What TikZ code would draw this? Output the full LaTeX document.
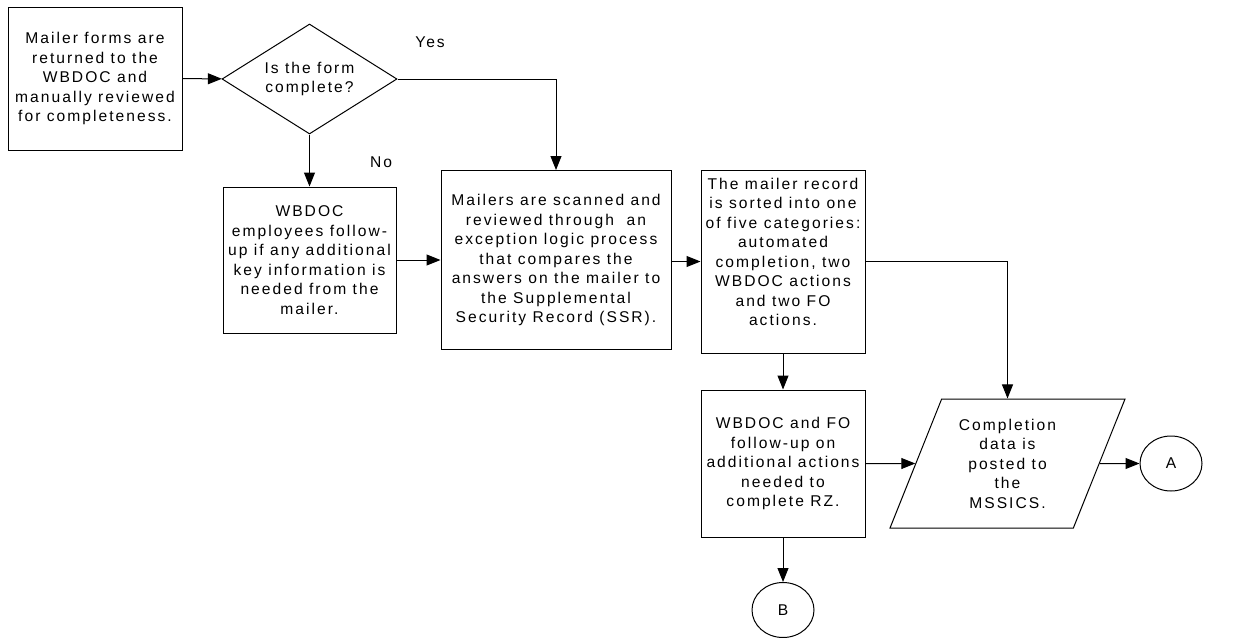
\documentclass[tikz,border=0pt]{standalone}
\usepackage{fontspec}
\setmainfont[LetterSpace=13]{Liberation Sans}
\usepackage{tikz}
\usetikzlibrary{positioning,shapes.geometric,arrows.meta}
\tikzset{
	flowbox/.style={draw, line width=1pt, inner sep=0pt, align=center, font=\fontsize{15.6}{19.5}\selectfont},
	decision/.style={flowbox, diamond, aspect=1.6},
	posting/.style={flowbox, trapezium, trapezium left angle=60, trapezium right angle=120, trapezium stretches body},
	offpage/.style={flowbox, ellipse},
	flowarrow/.style={line width=1pt, -{Triangle[length=14pt,width=11pt]}},
	answer/.style={font=\fontsize{15.6}{19.5}\selectfont}
}

\begin{document}
\begin{tikzpicture}[x=1pt, y=-1pt]
		\useasboundingbox (0,0) rectangle (1236,637);
		\node[flowbox, minimum width=174pt, minimum height=143pt] (returned) at (95,78.5) {Mailer forms are\\returned to the\\WBDOC and\\manually reviewed\\for completeness.};
		\node[decision, minimum width=175pt, minimum height=110pt] (complete) at (309.5,79) {Is the form\\complete?};
		\node[flowbox, minimum width=173pt, minimum height=146pt] (followup) at (309.5,260) {WBDOC\\employees follow-\\up if any additional\\key information is\\needed from the\\mailer.};
		\node[flowbox, minimum width=230pt, minimum height=179pt] (scanned) at (556,260) {Mailers are scanned and\\reviewed through~ an\\exception logic process\\that compares the\\answers on the mailer to\\the Supplemental\\Security Record (SSR).};
		\node[flowbox, minimum width=164pt, minimum height=183pt] (sorted) at (783,261.5) {The mailer record\\is sorted into one\\of five categories:\\automated\\completion, two\\WBDOC actions\\and two FO\\actions.\\\mbox{}};
		\node[flowbox, minimum width=164pt, minimum height=147pt] (actions) at (783,463.5) {WBDOC and FO\\follow-up on\\additional actions\\needed to\\complete RZ.};
		\node[posting, minimum width=235pt, minimum height=129pt] (posted) at (1007.5,463.5) {Completion\\data is\\posted to\\the\\MSSICS.};
		\node[offpage, minimum width=62pt, minimum height=55pt] (A) at (1171,463.5) {A};
		\node[offpage, minimum width=62pt, minimum height=55pt] (B) at (783,610) {B};
		\node[answer] (yes) at (430,42) {Yes};
		\node[answer] (no) at (381,162) {No};
		% connectors
		\draw[flowarrow] (returned) -- (complete);
		\draw[flowarrow] (complete.east) -| (scanned.north);
		\draw[flowarrow] (complete.south) -- (followup.north);
		\draw[flowarrow] (followup) -- (scanned);
		\draw[flowarrow] (scanned.east |- sorted.west) -- (sorted.west);
		\draw[flowarrow] (sorted.east) -| (posted.north);
		\draw[flowarrow] (sorted) -- (actions);
		\draw[flowarrow] (actions) -- (posted);
		\draw[flowarrow] (posted) -- (A);
		\draw[flowarrow] (actions) -- (B);
	\end{tikzpicture}
\end{document}
